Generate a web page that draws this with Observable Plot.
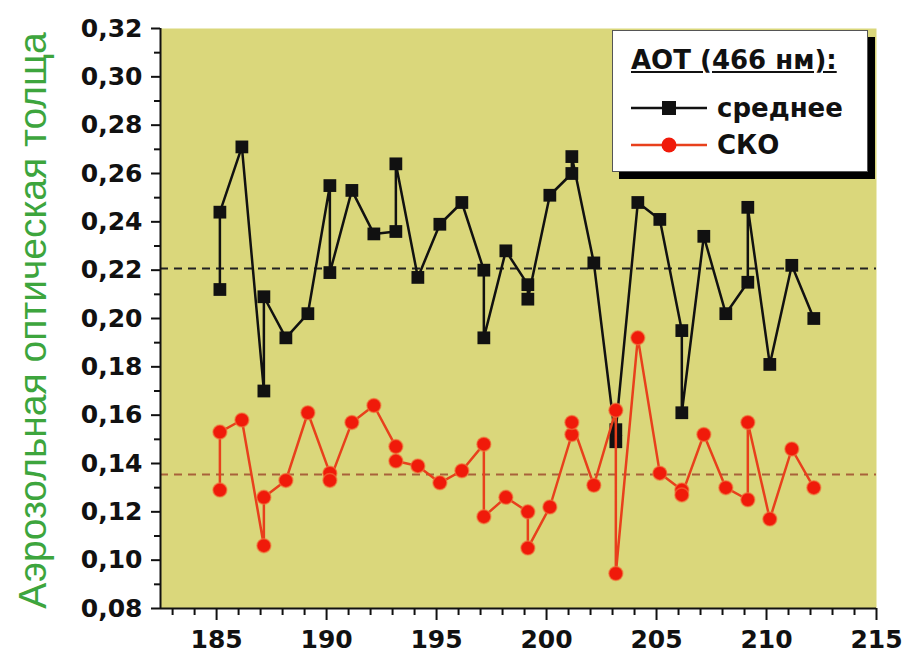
<!DOCTYPE html>
<html>
<head>
<meta charset="utf-8">
<script src="https://cdn.jsdelivr.net/npm/d3@7"></script>
<script src="https://cdn.jsdelivr.net/npm/@observablehq/plot@0.6"></script>
<style>
  html, body { margin: 0; padding: 0; background: #fff; }
  #wrap { position: relative; width: 905px; height: 659px; font-family: "DejaVu Sans", sans-serif; }
  #legend { position: absolute; left: 612px; top: 30px; width: 254px; height: 140px; background: #fff;
            border: 1.5px solid #555; box-shadow: 7px 7px 0 #000; }
  #legend .t { position: absolute; left: 18px; top: 14px; font-weight: bold; font-size: 26px; text-decoration: underline; color: #111; white-space: nowrap; }
  #legend .row { position: absolute; left: 18px; height: 30px; display: flex; align-items: center; white-space: nowrap; }
  #legend .row span { font-weight: bold; font-size: 26px; color: #111; margin-left: 10px; }
</style>
</head>
<body>
<div id="wrap"></div>
<script>
// ---- data ----
const days = [185.15,185.15,186.15,187.15,187.15,188.15,189.15,190.15,190.15,191.15,192.15,193.15,193.15,194.15,195.15,196.15,197.15,197.15,198.15,199.15,199.15,200.15,201.15,201.15,202.15,203.15,203.15,204.15,205.15,206.15,206.15,207.15,208.15,209.15,209.15,210.15,211.15,212.15];
const meanAOT = [0.212,0.244,0.271,0.170,0.209,0.192,0.202,0.255,0.219,0.253,0.235,0.236,0.264,0.217,0.239,0.248,0.220,0.192,0.228,0.214,0.208,0.251,0.260,0.267,0.223,0.149,0.154,0.248,0.241,0.195,0.161,0.234,0.202,0.215,0.246,0.181,0.222,0.200];
const skoAOT = [0.129,0.153,0.158,0.106,0.126,0.133,0.161,0.136,0.133,0.157,0.164,0.147,0.141,0.139,0.132,0.137,0.148,0.118,0.126,0.120,0.105,0.122,0.152,0.157,0.131,0.162,0.0945,0.192,0.136,0.129,0.127,0.152,0.130,0.125,0.157,0.117,0.146,0.130];
const levelMean = [0.2207];
const levelSko = [0.1354];
const xDomain = [182.45, 215];
const yDomain = [0.08, 0.32];
const xTicks = [185,190,195,200,205,210,215];
const xMinor = [183,184,186,187,188,189,191,192,193,194,196,197,198,199,201,202,203,204,206,207,208,209,211,212,213,214];
const yTicks = [0.08,0.10,0.12,0.14,0.16,0.18,0.20,0.22,0.24,0.26,0.28,0.30,0.32];
const yMinor = [0.09,0.11,0.13,0.15,0.17,0.19,0.21,0.23,0.25,0.27,0.29,0.31];
const yTitle = "Аэрозольная оптическая толща";
const legendTitle = "АОТ (466 нм):";
const seriesNames = ["среднее", "СКО"];

const rows = days.map((d, i) => ({day: d, mean: meanAOT[i], sko: skoAOT[i]}));
const fmt = d => d.toFixed(2).replace(".", ",");
const bg = "#dad77b";
const redLine = "#e8401c";
const redDot = "#f01a0a";

const chart = Plot.plot({
  width: 905,
  height: 659,
  marginLeft: 160,
  marginRight: 29,
  marginTop: 28,
  marginBottom: 51,
  style: {fontFamily: "DejaVu Sans, sans-serif", background: "transparent", color: "#111"},
  x: {domain: xDomain},
  y: {domain: yDomain},
  marks: [
    Plot.frame({fill: bg, stroke: null}),
    Plot.ruleY(levelMean, {stroke: "#222", strokeWidth: 2, strokeDasharray: "8,6"}),
    Plot.ruleY(levelSko, {stroke: "#a8623a", strokeWidth: 2, strokeDasharray: "8,6"}),
    Plot.line(rows, {x: "day", y: "mean", stroke: "#111", strokeWidth: 2.5}),
    Plot.dot(rows, {x: "day", y: "mean", symbol: "square", r: 7.2, fill: "#111", stroke: null}),
    Plot.line(rows, {x: "day", y: "sko", stroke: redLine, strokeWidth: 2.5}),
    Plot.dot(rows, {x: "day", y: "sko", r: 7, fill: redDot, stroke: "#f07a40", strokeWidth: 1.5, strokeOpacity: 0.6}),
    Plot.axisY({ticks: yTicks, tickFormat: fmt, tickSize: 9, tickPadding: 9, fontSize: 25, fontWeight: "bold", strokeWidth: 2, label: null}),
    Plot.axisY({ticks: yMinor, tickFormat: () => "", tickSize: 6, strokeWidth: 2, label: null}),
    Plot.axisX({ticks: xTicks, tickFormat: d => String(d), tickSize: 12, tickPadding: 10, fontSize: 25, fontWeight: "bold", strokeWidth: 2, label: null}),
    Plot.axisX({ticks: xMinor, tickFormat: () => "", tickSize: 7, strokeWidth: 2, label: null}),
    Plot.ruleX([xDomain[0]], {stroke: "#111", strokeWidth: 2}),
    Plot.ruleY([yDomain[0]], {stroke: "#111", strokeWidth: 2}),
    Plot.text([yTitle], {frameAnchor: "left", textAnchor: "middle", dx: -127, dy: 2, rotate: -90, fontSize: 39, fontFamily: "Liberation Sans, Arial, sans-serif", fill: "#3da53d", fontWeight: "normal"})
  ]
});

const wrap = document.getElementById("wrap");
wrap.appendChild(chart);

// legend
const lg = document.createElement("div");
lg.id = "legend";
const t = document.createElement("div");
t.className = "t";
t.textContent = legendTitle;
lg.appendChild(t);
const symbols = [
  `<svg width="76" height="20"><line x1="0" y1="10" x2="76" y2="10" stroke="#111" stroke-width="2.5"/><rect x="31" y="3" width="14" height="14" fill="#111"/></svg>`,
  `<svg width="76" height="20"><line x1="0" y1="10" x2="76" y2="10" stroke="${redLine}" stroke-width="2.5"/><circle cx="38" cy="10" r="7.5" fill="${redDot}"/></svg>`
];
seriesNames.forEach((name, i) => {
  const r = document.createElement("div");
  r.className = "row";
  r.style.top = (i === 0 ? 62 : 99) + "px";
  r.innerHTML = symbols[i] + `<span>${name}</span>`;
  lg.appendChild(r);
});
wrap.appendChild(lg);
</script>
</body>
</html>
